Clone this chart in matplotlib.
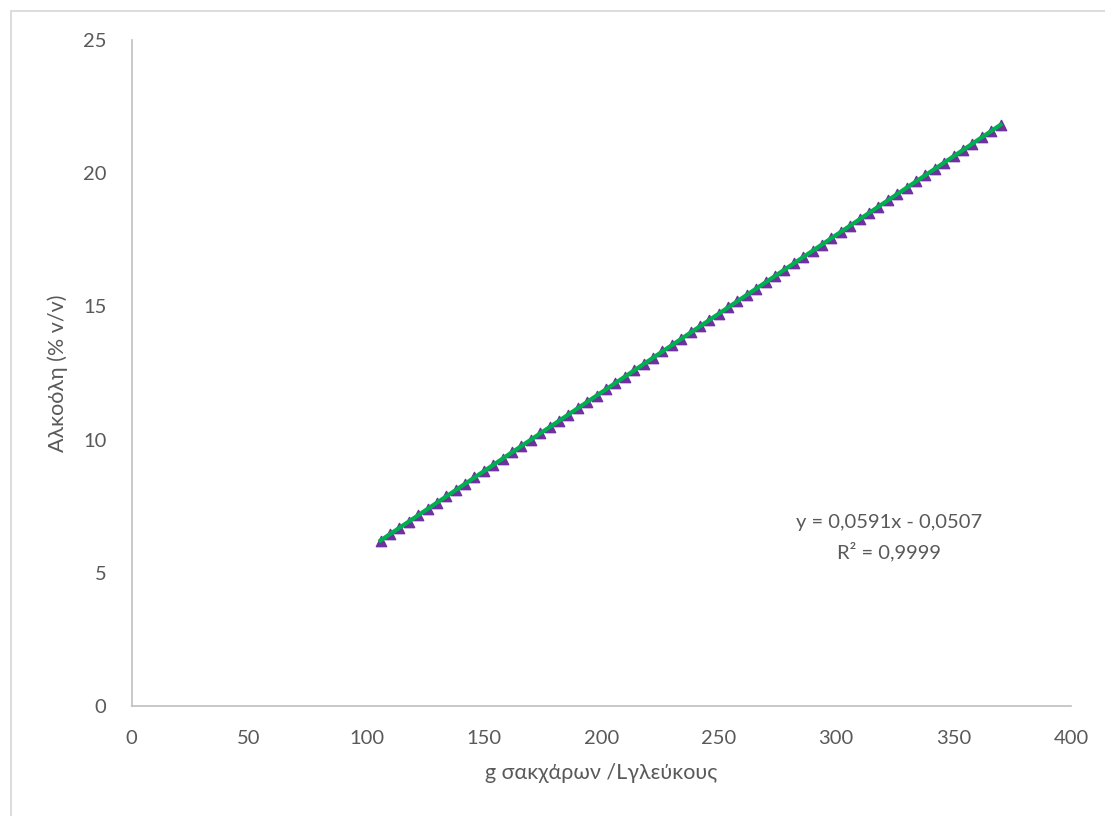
import numpy as np
import matplotlib.pyplot as plt
from matplotlib.patches import Rectangle

plt.rcParams['font.family'] = ['Lato', 'DejaVu Sans']

sugar = [106, 110, 114, 118, 122, 126, 130, 134, 138, 142, 146, 150, 154, 158,
         162, 166, 170, 174, 178, 182, 186, 190, 194, 198, 202, 206, 210, 214,
         218, 222, 226, 230, 234, 238, 242, 246, 250, 254, 258, 262, 266, 270,
         274, 278, 282, 286, 290, 294, 298, 302, 306, 310, 314, 318, 322, 326,
         330, 334, 338, 342, 346, 350, 354, 358, 362, 366, 370]
alcohol = [6.21, 6.45, 6.69, 6.92, 7.16, 7.40, 7.63, 7.87, 8.11, 8.34, 8.58,
           8.81, 9.05, 9.29, 9.52, 9.76, 10.00, 10.23, 10.47, 10.71, 10.94,
           11.18, 11.41, 11.65, 11.89, 12.12, 12.36, 12.60, 12.83, 13.07,
           13.31, 13.54, 13.78, 14.02, 14.25, 14.49, 14.72, 14.96, 15.20,
           15.43, 15.67, 15.91, 16.14, 16.38, 16.62, 16.85, 17.09, 17.32,
           17.56, 17.80, 18.03, 18.27, 18.51, 18.74, 18.98, 19.22, 19.45,
           19.69, 19.93, 20.16, 20.40, 20.63, 20.87, 21.11, 21.34, 21.58, 21.82]

x_ticks = [0, 50, 100, 150, 200, 250, 300, 350, 400]
y_ticks = [0, 5, 10, 15, 20, 25]

txt = '#595959'
fig = plt.figure(figsize=(11.05, 8.16), dpi=100)
fig.patches.append(Rectangle((11 / 1105, -0.1), 1.2, 1.1 - 11 / 816,
                             transform=fig.transFigure, fill=False,
                             edgecolor='#D9D9D9', linewidth=1.3))
ax = fig.add_axes([0.1191, 0.1348, 0.9692 - 0.1191, 0.951 - 0.1348])

ax.scatter(sugar, alcohol, marker='^', s=55, color='#7030A0', zorder=2)
coef = np.polyfit(sugar, alcohol, 1)
xs = np.array([sugar[0], sugar[-1]])
ax.plot(xs, np.polyval(coef, xs), color='#00B050', linewidth=3, zorder=3)

ax.set_xlim(0, 400)
ax.set_ylim(0, 25)
ax.set_xticks(x_ticks)
ax.set_yticks(y_ticks)
ax.tick_params(length=0, labelsize=14.5, colors=txt, pad=17)
ax.tick_params(axis='y', pad=18)
for s in ['top', 'right']:
    ax.spines[s].set_visible(False)
for s in ['left', 'bottom']:
    ax.spines[s].set_color('#BFBFBF')
    ax.spines[s].set_linewidth(1.2)

ax.set_xlabel('g σακχάρων /Lγλεύκους', fontsize=15.5, color=txt, labelpad=12)
ax.set_ylabel('Αλκοόλη (% v/v)', fontsize=15.5, color=txt, labelpad=11)

ax.text(322.7, 6.9, 'y = 0,0591x - 0,0507', ha='center', va='center',
        fontsize=14.5, color=txt)
ax.text(322.7, 5.78, 'R² = 0,9999', ha='center', va='center',
        fontsize=14.5, color=txt)

fig.savefig('out.png', dpi=100)
